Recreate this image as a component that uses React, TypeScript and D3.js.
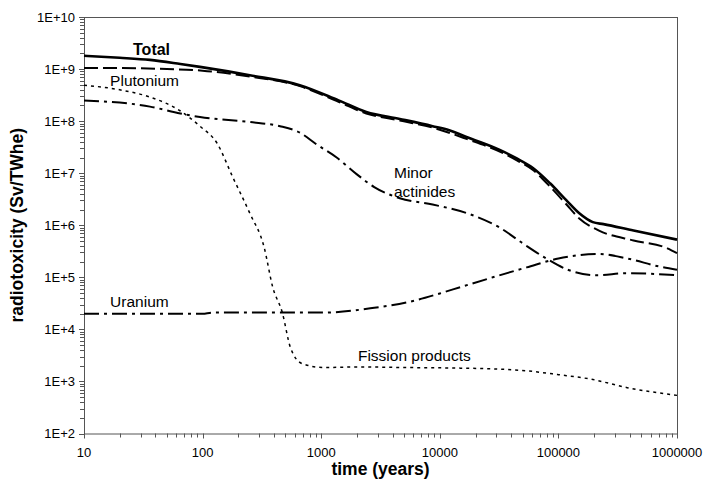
import React from 'react';
import * as d3 from 'd3';

// Axis ticks
const xTickValues = [10, 100, 1000, 10000, 100000, 1000000];
const xTickLabels = ['10', '100', '1000', '10000', '100000', '1000000'];
const yTickValues = [1e2, 1e3, 1e4, 1e5, 1e6, 1e7, 1e8, 1e9, 1e10];
const yTickLabels = ['1E+2', '1E+3', '1E+4', '1E+5', '1E+6', '1E+7', '1E+8', '1E+9', '1E+10'];

// Series: Total
const totalYears = [10, 20, 36, 65, 95, 250, 660, 1400, 2400, 4600, 8700, 12000, 17000, 32000, 45000, 61000, 85000, 117000, 150000, 195000, 240000, 430000, 1000000];
const totalValues = [1.8e9, 1.65e9, 1.5e9, 1.25e9, 1.1e9, 7.6e8, 4.9e8, 2.5e8, 1.5e8, 1.1e8, 8.0e7, 6.7e7, 4.9e7, 2.8e7, 1.9e7, 1.26e7, 6.4e6, 3.0e6, 1.7e6, 1.15e6, 1.05e6, 7.9e5, 5.3e5];

// Series: Plutonium
const plutoniumYears = [10, 20, 50, 100, 250, 660, 1400, 2400, 4600, 8700, 17000, 32000, 45000, 61000, 85000, 117000, 150000, 220000, 430000, 830000, 1000000];
const plutoniumValues = [1.05e9, 1.05e9, 1.0e9, 9.3e8, 7.2e8, 4.7e8, 2.35e8, 1.4e8, 1.03e8, 7.5e7, 4.5e7, 2.6e7, 1.75e7, 1.15e7, 5.5e6, 2.5e6, 1.35e6, 7.9e5, 5.1e5, 3.6e5, 2.9e5];

// Series: Minor actinides
const minorActinidesYears = [10, 36, 65, 95, 250, 450, 660, 910, 1350, 2000, 2800, 4600, 8700, 17000, 32000, 50000, 79000, 120000, 210000, 380000, 1000000];
const minorActinidesValues = [2.5e8, 1.9e8, 1.4e8, 1.2e8, 9.6e7, 8.0e7, 6.0e7, 3.6e7, 2.0e7, 9.5e6, 5.4e6, 3.3e6, 2.5e6, 1.7e6, 9.0e5, 4.5e5, 2.3e5, 1.4e5, 1.1e5, 1.2e5, 1.1e5];

// Series: Uranium
const uraniumYears = [10, 50, 100, 120, 200, 500, 1050, 2800, 5300, 10000, 15000, 28000, 54000, 100000, 220000, 380000, 720000, 1000000];
const uraniumValues = [2.0e4, 2.0e4, 2.0e4, 2.1e4, 2.1e4, 2.1e4, 2.1e4, 2.6e4, 3.3e4, 4.9e4, 6.5e4, 1.0e5, 1.55e5, 2.3e5, 2.8e5, 2.3e5, 1.6e5, 1.4e5];

// Series: Fission products
const fissionYears = [10, 20, 36, 64, 95, 132, 180, 250, 330, 390, 470, 550, 690, 1050, 2000, 5000, 15000, 26000, 54000, 100000, 190000, 380000, 1000000];
const fissionValues = [4.9e8, 4.0e8, 2.9e8, 1.6e8, 8.0e7, 3.8e7, 8.3e6, 1.7e6, 3.8e5, 6.5e4, 2.1e4, 4.5e3, 2.2e3, 1.85e3, 1.9e3, 1.85e3, 1.8e3, 1.75e3, 1.6e3, 1.35e3, 1.1e3, 7.6e2, 5.4e2];

// Curve labels (anchor in data coordinates)
const labelTexts = ['Total', 'Plutonium', 'Minor', 'actinides', 'Uranium', 'Fission products'];
const labelYears = [25.9, 16.6, 4110, 4110, 16.6, 2040];
const labelValues = [1.86e9, 4.7e8, 8.0e6, 3.45e6, 2.65e4, 2.43e3];
const labelBold = [true, false, false, false, false, false];

const FONT = '"Liberation Sans", Arial, Helvetica, sans-serif';

export default function App() {
  const W = 704;
  const H = 482;
  const left = 84;
  const right = 677;
  const top = 17;
  const bottom = 433.5;

  const x = d3.scaleLog().domain([10, 1e6]).range([left, right]);
  const y = d3.scaleLog().domain([1e2, 1e10]).range([bottom, top]);

  const line = d3
    .line<[number, number]>()
    .x((d) => x(d[0]))
    .y((d) => y(d[1]))
    .curve(d3.curveMonotoneX);

  const zip = (a: number[], b: number[]) => a.map((v, i) => [v, b[i]] as [number, number]);

  const series = [
    { d: zip(totalYears, totalValues), w: 2.6, dash: 'none' },
    { d: zip(plutoniumYears, plutoniumValues), w: 2, dash: '14,5' },
    { d: zip(minorActinidesYears, minorActinidesValues), w: 2, dash: '15,5,3,5' },
    { d: zip(uraniumYears, uraniumValues), w: 2, dash: '15,5,3,5' },
    { d: zip(fissionYears, fissionValues), w: 1.5, dash: '3,4' },
  ];

  // minor ticks
  const xMinor: number[] = [];
  for (let e = 1; e < 6; e++) for (let k = 2; k <= 9; k++) xMinor.push(k * Math.pow(10, e));
  const yMinor: number[] = [];
  for (let e = 2; e < 10; e++) for (let k = 2; k <= 9; k++) yMinor.push(k * Math.pow(10, e));

  const axisColor = '#555';

  return (
    <svg
      width={W}
      height={H}
      style={{ position: 'absolute', left: 0, top: 0, background: '#fff' }}
      fontFamily={FONT}
    >
      <rect x={0} y={0} width={W} height={H} fill="#fff" />
      {/* frame */}
      <rect
        x={left + 0.5}
        y={top + 0.5}
        width={right - left}
        height={bottom - top}
        fill="none"
        stroke={axisColor}
        strokeWidth={1}
      />
      {/* y ticks */}
      {yTickValues.map((v, i) => (
        <g key={'yt' + i}>
          <line x1={left - 5} x2={left} y1={Math.round(y(v)) + 0.5} y2={Math.round(y(v)) + 0.5} stroke={axisColor} />
          <text x={left - 9} y={y(v)} dy="0.35em" textAnchor="end" fontSize={13} fill="#000">
            {yTickLabels[i]}
          </text>
        </g>
      ))}
      {yMinor.map((v, i) => (
        <line key={'ym' + i} x1={left - 4} x2={left} y1={Math.round(y(v)) + 0.5} y2={Math.round(y(v)) + 0.5} stroke={axisColor} />
      ))}
      {/* x ticks */}
      {xTickValues.map((v, i) => (
        <g key={'xt' + i}>
          <line x1={Math.round(x(v)) + 0.5} x2={Math.round(x(v)) + 0.5} y1={bottom} y2={bottom + 5} stroke={axisColor} />
          <text x={x(v)} y={bottom + 23} textAnchor="middle" fontSize={13} fill="#000">
            {xTickLabels[i]}
          </text>
        </g>
      ))}
      {xMinor.map((v, i) => (
        <line key={'xm' + i} x1={Math.round(x(v)) + 0.5} x2={Math.round(x(v)) + 0.5} y1={bottom} y2={bottom + 4} stroke={axisColor} />
      ))}
      {/* series */}
      {series.map((s, i) => (
        <path
          key={'s' + i}
          d={line(s.d) || ''}
          fill="none"
          stroke="#000"
          strokeWidth={s.w}
          strokeDasharray={s.dash}
        />
      ))}
      {/* curve labels */}
      {labelTexts.map((t, i) => (
        <text
          key={'l' + i}
          x={x(labelYears[i])}
          y={y(labelValues[i])}
          fontSize={labelBold[i] ? 16 : 15.5}
          fontWeight={labelBold[i] ? 'bold' : 'normal'}
          fill="#000"
        >
          {t}
        </text>
      ))}
      {/* axis titles */}
      <text x={(left + right) / 2} y={475} textAnchor="middle" fontSize={17.5} fontWeight="bold" fill="#000">
        time (years)
      </text>
      <text
        transform={`translate(23, ${(top + bottom) / 2}) rotate(-90)`}
        textAnchor="middle"
        fontSize={17.5}
        fontWeight="bold"
        fill="#000"
      >
        radiotoxicity (Sv/TWhe)
      </text>
    </svg>
  );
}
